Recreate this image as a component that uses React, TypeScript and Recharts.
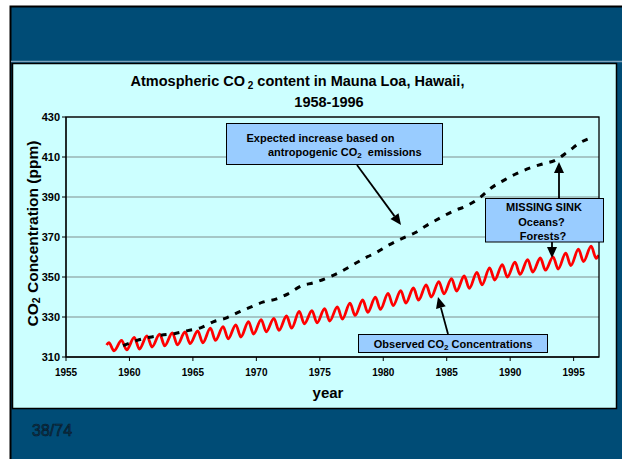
import React from 'react';
import { LineChart, Line, XAxis, YAxis, CartesianGrid } from 'recharts';

const FONT = '"Liberation Sans", Arial, Helvetica, sans-serif';

// Observed CO2 (Mauna Loa): seasonal peak (spring) and trough (autumn) per year
const obsYears = [1958, 1959, 1960, 1961, 1962, 1963, 1964, 1965, 1966, 1967, 1968, 1969, 1970, 1971, 1972, 1973, 1974, 1975, 1976, 1977, 1978, 1979, 1980, 1981, 1982, 1983, 1984, 1985, 1986, 1987, 1988, 1989, 1990, 1991, 1992, 1993, 1994, 1995, 1996];
const obsPeak = [317.2, 318.3, 319.8, 320.6, 321.4, 322.1, 322.5, 323.0, 324.4, 325.2, 326.1, 327.7, 328.7, 329.3, 330.5, 332.8, 333.2, 334.2, 335.1, 336.9, 338.5, 339.9, 341.8, 343.2, 344.5, 346.1, 347.7, 349.2, 350.5, 352.3, 354.6, 356.2, 357.4, 358.7, 359.5, 360.1, 361.9, 363.9, 365.4];
const obsTrough = [313.1, 313.6, 314.0, 315.0, 315.6, 316.1, 316.7, 317.1, 318.3, 319.1, 320.0, 321.5, 322.6, 323.3, 324.4, 326.6, 327.1, 328.0, 328.9, 330.8, 332.3, 333.8, 335.7, 337.0, 338.4, 340.0, 341.6, 343.0, 344.3, 346.1, 348.5, 350.0, 351.3, 352.5, 353.4, 354.0, 355.7, 357.7, 359.3];
const obsFirst = { t: 1958.2, v: 316.0 };
const obsLast = { t: 1996.97, v: 361.0 };
const PEAK_PHASE = 0.38;
const TROUGH_PHASE = 0.78;

// Expected increase based on anthropogenic emissions
const expYear = [1959.5, 1960.6, 1961.6, 1962.5, 1963.6, 1964.6, 1965.6, 1966.6, 1967.7, 1968.6, 1969.6, 1970.5, 1971.6, 1972.5, 1973.6, 1974.5, 1975.6, 1976.5, 1977.5, 1978.6, 1979.5, 1980.5, 1981.6, 1982.5, 1983.4, 1984.5, 1985.5, 1986.6, 1987.6, 1988.5, 1989.6, 1990.5, 1991.6, 1992.6, 1993.5, 1994.6, 1995.5, 1996.6];
const expPpm = [315.7, 318.3, 319.9, 320.9, 321.8, 323.2, 324.6, 327.6, 329.7, 332.4, 335.1, 337.4, 339.1, 341.6, 345.7, 347.1, 349.6, 352.1, 355.7, 359.6, 362.4, 366.2, 369.6, 372.1, 375.7, 379.6, 382.9, 385.7, 389.6, 394.5, 398.7, 401.7, 404.6, 406.6, 408.2, 412.9, 417.1, 420.1];

const xTicks = [1955, 1960, 1965, 1970, 1975, 1980, 1985, 1990, 1995];
const yTicks = [310, 330, 350, 370, 390, 410, 430];

const observed: { t: number; v: number }[] = [obsFirst];
obsYears.forEach((y, i) => {
  observed.push({ t: y + PEAK_PHASE, v: obsPeak[i] });
  observed.push({ t: y + TROUGH_PHASE, v: obsTrough[i] });
});
observed.push(obsLast);

const expected = expYear.map((t, i) => ({ t, v: expPpm[i] }));

// plot geometry (layout)
const W = 622;
const H = 459;
const M = { top: 117, right: 23, bottom: 72, left: 10 };
const YW = 56;
const XH = 30;
const PL = M.left + YW;
const PT = M.top;
const PR = W - M.right;
const PB = H - M.bottom - XH;

function Arrow({ x1, y1, x2, y2 }: { x1: number; y1: number; x2: number; y2: number }) {
  const dx = x2 - x1;
  const dy = y2 - y1;
  const len = Math.sqrt(dx * dx + dy * dy);
  const ux = dx / len;
  const uy = dy / len;
  const hl = 11;
  const hw = 5;
  const bx = x2 - ux * hl;
  const by = y2 - uy * hl;
  const pts = `${x2},${y2} ${bx - uy * hw},${by + ux * hw} ${bx + uy * hw},${by - ux * hw}`;
  return (
    <g>
      <line x1={x1} y1={y1} x2={bx} y2={by} stroke="#000" strokeWidth={1.8} />
      <polygon points={pts} fill="#000" />
    </g>
  );
}

const boxStyle = { fill: '#99CCFF', stroke: '#000', strokeWidth: 1 };
const annText = { fontFamily: FONT, fontSize: 11, fontWeight: 700, fill: '#000' } as const;

export default function App() {
  return (
    <div style={{ position: 'absolute', left: 0, top: 0, width: W, height: H, overflow: 'hidden', background: '#fff' }}>
      <svg width={W} height={H} style={{ position: 'absolute', left: 0, top: 0 }}>
        <rect x={10.5} y={6.5} width={620} height={460} fill="#004C76" stroke="#000" strokeWidth={2} />
        <line x1={11} y1={61.5} x2={622} y2={61.5} stroke="#7FA3BC" strokeWidth={1.5} />
        <rect x={12.5} y={63.5} width={604} height={345} fill="#CCFFFF" stroke="#000" strokeWidth={1.5} />
        <text x={32} y={436} fontFamily={FONT} fontSize={16} fill="#12354C" stroke="#05192A" strokeWidth={0.6}>38/74</text>
      </svg>
      <div style={{ position: 'absolute', left: 0, top: 0 }}>
        <LineChart width={W} height={H} margin={M}>
          <CartesianGrid horizontal vertical={false} stroke="#7F8F8F" strokeWidth={1} />
          <XAxis
            type="number"
            dataKey="t"
            domain={[1955, 1997]}
            ticks={xTicks}
            allowDataOverflow
            height={XH}
            tickSize={4}
            tickMargin={8}
            stroke="#000"
            tick={{ fontFamily: FONT, fontSize: 10, fontWeight: 700, fill: '#000' }}
          />
          <YAxis
            type="number"
            domain={[310, 430]}
            ticks={yTicks}
            allowDataOverflow
            width={YW}
            tickSize={4}
            tickMargin={2}
            stroke="#000"
            tick={{ fontFamily: FONT, fontSize: 11, fontWeight: 700, fill: '#000' }}
          />
          <Line
            data={observed}
            dataKey="v"
            type="monotone"
            stroke="#FF0000"
            strokeWidth={2.8}
            dot={false}
            isAnimationActive={false}
          />
          <Line
            data={expected}
            dataKey="v"
            type="monotone"
            stroke="#000"
            strokeWidth={3}
            strokeDasharray="6 7"
            dot={false}
            isAnimationActive={false}
          />
        </LineChart>
      </div>
      <svg width={W} height={H} style={{ position: 'absolute', left: 0, top: 0 }}>
        <rect x={PL} y={PT} width={PR - PL} height={PB - PT} fill="none" stroke="#000" strokeWidth={1.3} />

        <text x={297.5} y={86} textAnchor="middle" fontFamily={FONT} fontSize={14.5} fontWeight={700} fill="#000">
          Atmospheric CO<tspan fontSize={10} dy={3}> 2</tspan><tspan dy={-3}> content in Mauna Loa, Hawaii,</tspan>
        </text>
        <text x={329} y={107} textAnchor="middle" fontFamily={FONT} fontSize={14.5} fontWeight={700} fill="#000">
          1958-1996
        </text>

        <text
          x={32}
          y={233.5}
          transform="rotate(-90 32 233.5)"
          textAnchor="middle"
          dominantBaseline="central"
          fontFamily={FONT}
          fontSize={15.5}
          fontWeight={700}
          fill="#000"
        >
          CO<tspan fontSize={10.5} dy={4}>2</tspan><tspan dy={-4}> Concentration (ppm)</tspan>
        </text>

        <text x={328} y={398} textAnchor="middle" fontFamily={FONT} fontSize={15} fontWeight={700} fill="#000">
          year
        </text>

        {/* Expected increase box */}
        <Arrow x1={357} y1={165} x2={401} y2={225} />
        <rect x={226.5} y={123.5} width={216} height={41} {...boxStyle} />
        <text x={246.5} y={141.5} {...annText}>Expected increase based on</text>
        <text x={268} y={156} {...annText}>
          antropogenic CO<tspan fontSize={8} dy={2}>2</tspan><tspan dy={-2}>{'\u00A0\u00A0'}emissions</tspan>
        </text>

        {/* Missing sink box */}
        <Arrow x1={559} y1={198} x2={559} y2={162} />
        <Arrow x1={552} y1={242} x2={552} y2={258} />
        <rect x={485.5} y={198.5} width={118} height={43.5} {...boxStyle} />
        <text x={544} y={211} textAnchor="middle" {...annText}>MISSING SINK</text>
        <text x={541.5} y={225.5} textAnchor="middle" {...annText}>Oceans?</text>
        <text x={543} y={240} textAnchor="middle" {...annText}>Forests?</text>

        {/* Observed box */}
        <Arrow x1={448} y1={334} x2={438} y2={297} />
        <rect x={358.5} y={334.5} width={189} height={18} {...boxStyle} />
        <text x={453} y={348} textAnchor="middle" {...annText}>
          Observed CO<tspan fontSize={8} dy={2}>2</tspan><tspan dy={-2}> Concentrations</tspan>
        </text>
      </svg>
    </div>
  );
}
